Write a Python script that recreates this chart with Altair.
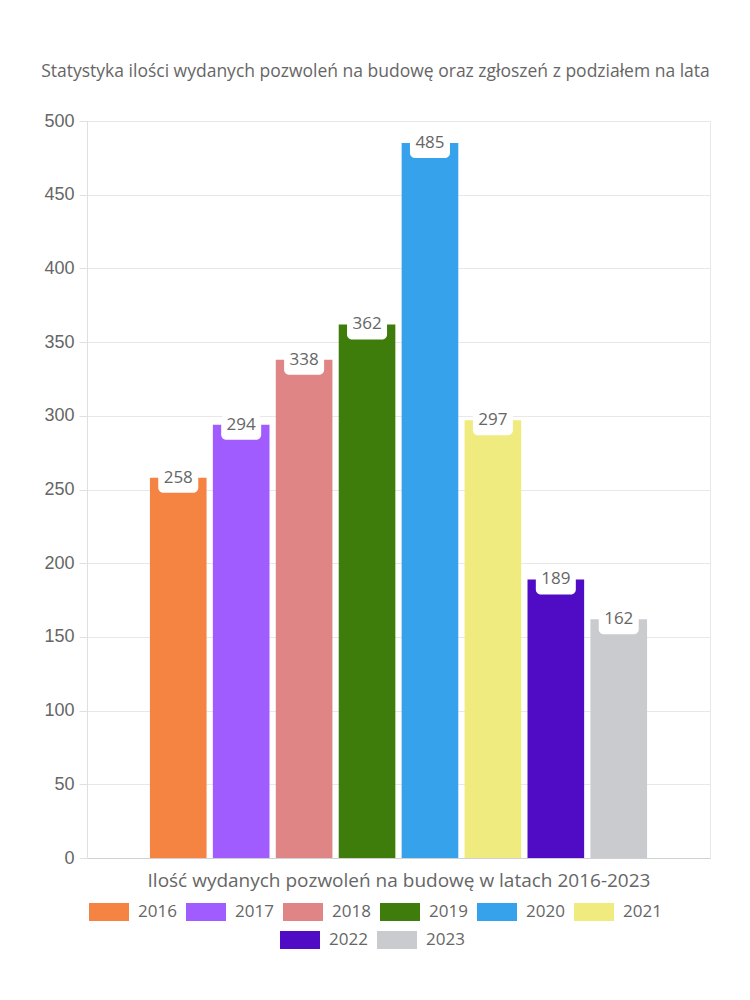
import altair as alt
import pandas as pd

years = ["2016", "2017", "2018", "2019", "2020", "2021", "2022", "2023"]
values = [258, 294, 338, 362, 485, 297, 189, 162]
colors = ["#F58442", "#A05CFF", "#E08585", "#3E7D0C", "#36A2EB", "#F0EB7E", "#4F0CC4", "#C9CBCF"]
y_ticks = [0, 50, 100, 150, 200, 250, 300, 350, 400, 450, 500]

title_text = "Statystyka ilości wydanych pozwoleń na budowę oraz zgłoszeń z podziałem na lata"
x_title = "Ilość wydanych pozwoleń na budowę w latach 2016-2023"

df = pd.DataFrame({"year": years, "value": values})

FONT = "Open Sans"
AXFONT = "Liberation Sans"
rect_path = "M-1,-0.45L1,-0.45L1,0.45L-1,0.45Z"

xenc = alt.X(
    "year:N",
    scale=alt.Scale(domain=years, paddingInner=0.1, paddingOuter=1),
    axis=alt.Axis(labels=False, ticks=False, title=x_title, titleFont=FONT,
                  titleFontSize=19, titleFontWeight="normal", titleColor="#666",
                  titlePadding=13, domainColor="#d0d0d0"),
)
yscale = alt.Scale(domain=[0, 500], nice=False)

base = alt.Chart(df).encode(x=xenc)

bars = base.mark_bar().encode(
    y=alt.Y("value:Q", scale=yscale,
            axis=alt.Axis(values=y_ticks, title=None, labelFont=AXFONT, labelFontSize=18,
                          labelColor="#666", labelPadding=5, tickSize=8, tickColor="#e0e0e0",
                          domainColor="#e0e0e0", gridColor="#e8e8e8")),
    color=alt.Color("year:N", scale=alt.Scale(domain=years, range=colors), legend=None),
)

boxes = base.mark_bar(color="white", size=40, cornerRadius=5, yOffset=-10, y2Offset=15).encode(
    y=alt.Y("value:Q", scale=yscale), y2="value:Q"
)

labels = base.mark_text(font=FONT, fontSize=17, color="#666", baseline="middle").encode(
    y=alt.Y("value:Q", scale=yscale), text="value:Q"
)

def legend_layer(sub_years, sub_colors, lx, ly):
    return (
        base.transform_filter(alt.FieldOneOfPredicate(field="year", oneOf=sub_years))
        .mark_bar(opacity=0)
        .encode(
            y=alt.Y("value:Q", scale=yscale),
            color=alt.Color(
                "year:N",
                scale=alt.Scale(domain=sub_years, range=sub_colors),
                legend=alt.Legend(
                    title=None, orient="none", direction="horizontal",
                    legendX=lx, legendY=ly, symbolType=rect_path, symbolSize=1600,
                    symbolOpacity=1, symbolStrokeWidth=0, labelFont=FONT, labelFontSize=17,
                    labelColor="#666", labelOffset=9, columnPadding=9,
                ),
            ),
        )
    )

leg1 = legend_layer(years[:6], colors[:6], 2, 771)
leg2 = legend_layer(years[6:], colors[6:], 193, 799)

chart = (
    alt.layer(bars, boxes, labels, leg1, leg2)
    .resolve_scale(color="independent")
    .properties(
        width=623,
        height=737,
        autosize=alt.AutoSizeParams(type="none"),
        padding={"left": 79, "top": 113, "right": 30, "bottom": 130},
        title=alt.TitleParams(title_text, font=FONT, fontSize=17.5, color="#666",
                              fontWeight="normal", anchor="middle", dx=-23, offset=32),
    )
    .configure_view(stroke="#e8e8e8")
)

chart.save("out.html", embed_options={"renderer": "svg", "actions": False})
